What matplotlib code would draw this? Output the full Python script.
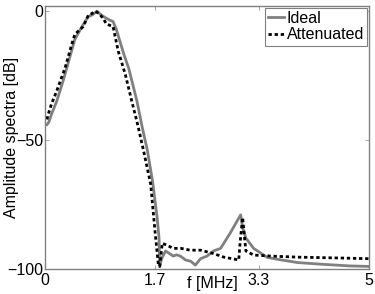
import matplotlib
matplotlib.use("Agg")
import matplotlib.pyplot as plt

plt.rcParams['font.family'] = ['Liberation Sans', 'DejaVu Sans']

ideal_f = [0.03, 0.06, 0.1, 0.18, 0.28, 0.37, 0.46, 0.57, 0.67, 0.73, 0.8, 0.87, 0.93, 1.0, 1.05, 1.1, 1.16, 1.22, 1.29, 1.36, 1.42, 1.5, 1.58, 1.66, 1.73, 1.76, 1.77, 1.8, 1.86, 1.92, 1.98, 2.03, 2.09, 2.17, 2.25, 2.32, 2.4, 2.5, 2.6, 2.71, 2.86, 2.95, 3.02, 3.05, 3.1, 3.22, 3.43, 3.65, 3.9, 4.3, 4.7, 5.0]
ideal_db = [-44, -43, -40, -35, -27, -19, -11, -6, -2, -1.5, 0, -1.5, -2.5, -3.5, -4, -7, -12, -17, -22, -29, -35, -45, -54, -66, -80, -88, -99, -96, -93, -94, -95, -94.5, -95, -96.5, -97, -98.5, -96, -95, -93, -92, -86, -82, -79, -84, -88, -92, -95.5, -96.5, -97.5, -98.2, -98.8, -99]

att_f = [0.03, 0.05, 0.1, 0.18, 0.31, 0.4, 0.46, 0.59, 0.67, 0.72, 0.77, 0.84, 0.9, 0.95, 1.05, 1.13, 1.24, 1.34, 1.43, 1.52, 1.63, 1.7, 1.75, 1.77, 1.81, 1.9, 1.98, 2.1, 2.24, 2.4, 2.6, 2.76, 2.99, 3.01, 3.05, 3.08, 3.1, 3.22, 3.5, 3.9, 4.5, 5.0]
att_db = [-42, -40, -36, -31, -22, -14, -9, -6, -1.5, -1, 0, -1, -3, -5, -6, -15.5, -24.6, -35, -44, -54, -67, -86, -98.5, -99, -90, -91, -92, -92, -92.7, -92.7, -94, -95.4, -96.5, -90, -80, -88, -93, -94.6, -95, -95.4, -95.7, -96]

xticks = [0, 1.7, 3.3, 5]
xticklabels = ['0', '1.7', '3.3', '5']
yticks = [-100, -50, 0]
yticklabels = ['\u2212100', '\u221250', '0']

fig = plt.figure(figsize=(3.75, 2.94), dpi=100)
ax = fig.add_axes([0.12, 0.085, 0.864, 0.8946])

ax.plot(ideal_f, ideal_db, color='#808080', lw=2.0, label='Ideal')
ax.plot(att_f, att_db, color='black', lw=2.0, linestyle=(0, (1.2, 1.0)), label='Attenuated')

ax.set_xlim(0, 5)
ax.set_ylim(-100, 2)
ax.set_xticks(xticks)
ax.set_xticklabels(xticklabels)
ax.set_yticks(yticks)
ax.set_yticklabels(yticklabels)
ax.tick_params(direction='in', length=3, width=0.6, color='#999999', labelsize=11.5, top=True, right=True)
ax.tick_params(axis='x', pad=3)
ax.tick_params(axis='y', pad=1)
for s in ax.spines.values():
    s.set_color('#808080')
    s.set_linewidth(1.0)

ax.set_xlabel('f [MHz]', fontsize=11.5, va='top')
ax.xaxis.set_label_coords(0.517, -0.028)
ax.set_ylabel('Amplitude spectra [dB]', fontsize=11.5)
ax.yaxis.set_label_coords(-0.08, 0.5)

leg = ax.legend(loc='upper right', fontsize=11.5, handlelength=1.0, handletextpad=0.15,
                borderpad=0.2, labelspacing=0.1, borderaxespad=0.1, fancybox=False,
                framealpha=1)
leg.get_frame().set_edgecolor('#808080')
leg.get_frame().set_linewidth(0.8)

fig.savefig('out.png', dpi=100)
